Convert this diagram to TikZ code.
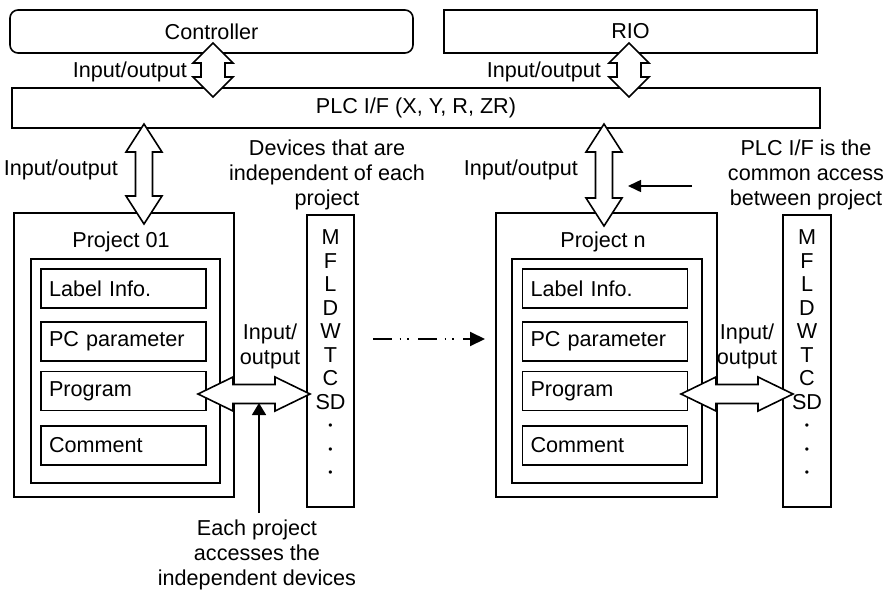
\documentclass[tikz,border=0pt]{standalone}
\usepackage{fontspec}
\setmainfont{Liberation Sans}
\usetikzlibrary{calc,arrows.meta}

\tikzset{
  box/.style={draw, line width=0.8pt, inner sep=0pt},
  itembox/.style={draw, line width=0.8pt, minimum height=19.5pt, text width=74.5pt, align=left, inner xsep=4pt, inner ysep=0pt},
  blockarrow/.style={draw, fill=white, line width=0.8pt, line join=miter},
  devcol/.style={align=center, inner sep=0pt, anchor=north, font=\fontsize{10.8}{11.75}\selectfont},
}

% vertical double block arrow: top, bottom, shaft half, head half, head length
\newcommand{\vblockarrow}[5]{%
  \filldraw[blockarrow] (#1) -- ($(#1)+(#4,#5)$) -- ($(#1)+(#3,#5)$) -- ($(#2)+(#3,-#5)$)
    -- ($(#2)+(#4,-#5)$) -- (#2) -- ($(#2)+(-#4,-#5)$) -- ($(#2)+(-#3,-#5)$)
    -- ($(#1)+(-#3,#5)$) -- ($(#1)+(-#4,#5)$) -- cycle;}
% horizontal double block arrow: left, right, shaft half, head half, head length
\newcommand{\hblockarrow}[5]{%
  \filldraw[blockarrow] (#1) -- ($(#1)+(#5,-#4)$) -- ($(#1)+(#5,-#3)$) -- ($(#2)+(-#5,-#3)$)
    -- ($(#2)+(-#5,-#4)$) -- (#2) -- ($(#2)+(-#5,#4)$) -- ($(#2)+(-#5,#3)$)
    -- ($(#1)+(#5,#3)$) -- ($(#1)+(#5,#4)$) -- cycle;}
\newcommand{\coldot}{\raisebox{1.6pt}{\fontsize{6}{6}\selectfont •}}

\begin{document}
\begin{tikzpicture}[x=0.5pt, y=-0.5pt, font=\fontsize{10.8}{12.5}\selectfont]
  \useasboundingbox (0,0) rectangle (887,599);

  % top row
  \node[box, rounded corners=4pt, minimum width=201.5pt, minimum height=21.5pt] (ctrl) at (211.5,31.5) {Controller};
  \node[box, minimum width=186.5pt, minimum height=21.5pt] (rio) at (630.5,31.5) {RIO};
  \node[box, minimum width=404pt, minimum height=20pt] (plc) at (416,108) {PLC I/F (X, Y, R, ZR)};

  % project 01
  \node[box, minimum width=110pt, minimum height=142pt] (proj1) at (124,355) {};
  \node (proj1t) at (121,242) {Project 01};
  \node[box, minimum width=94.5pt, minimum height=112pt] (in1) at (125.5,371) {};
  \node[itembox] (lab1) at (123.5,288.5) {Label Info.};
  \node[itembox] (par1) at (123.5,341.5) {PC parameter};
  \node[itembox] (prg1) at (123.5,391) {Program};
  \node[itembox] (cmt1) at (123.5,445.5) {Comment};
  \node[box, minimum width=23.5pt, minimum height=146pt] (col1) at (330.5,361) {};
  \node[devcol] (dev1) at (330.5,229.5) {M\\F\\L\\D\\W\\T\\C\\SD\\\coldot\\\coldot\\\coldot};

  % project n
  \node[box, minimum width=110.5pt, minimum height=142pt] (projn) at (606.5,355) {};
  \node (projnt) at (603,242) {Project n};
  \node[box, minimum width=95pt, minimum height=112pt] (inn) at (607,371) {};
  \node[itembox] (labn) at (605,288.5) {Label Info.};
  \node[itembox] (parn) at (605,341.5) {PC parameter};
  \node[itembox] (prgn) at (605,391) {Program};
  \node[itembox] (cmtn) at (605,445.5) {Comment};
  \node[box, minimum width=24pt, minimum height=146pt] (coln) at (807,361) {};
  \node[devcol] (devn) at (807,229.5) {M\\F\\L\\D\\W\\T\\C\\SD\\\coldot\\\coldot\\\coldot};

  % notes
  \node[align=center] (indep) at (327,175) {Devices that are\\independent of each\\project};
  \node[align=center] (common) at (806,175) {PLC I/F is the\\common access\\between project};
  \node[align=center] (each) at (257,555) {Each project\\accesses the\\independent devices};

  % block arrows
  \coordinate (io1t) at (213,43);  \coordinate (io1b) at (213,97);
  \coordinate (io2t) at (629,43);  \coordinate (io2b) at (629,97);
  \coordinate (io3t) at (144,124); \coordinate (io3b) at (144,224);
  \coordinate (io4t) at (604,124); \coordinate (io4b) at (604,226);
  \coordinate (io5l) at (198,394); \coordinate (io5r) at (310,394);
  \coordinate (io6l) at (681,394); \coordinate (io6r) at (793,394);
  \vblockarrow{io1t}{io1b}{12}{20}{20}
  \vblockarrow{io2t}{io2b}{12}{20}{20}
  \vblockarrow{io3t}{io3b}{8.5}{18}{28}
  \vblockarrow{io4t}{io4b}{8.5}{18}{28}
  \hblockarrow{io5l}{io5r}{9.5}{17}{35}
  \hblockarrow{io6l}{io6r}{9.5}{17}{35}

  \node[anchor=east] (iolab1) at (194,72) {Input/output};
  \node[anchor=east] (iolab2) at (608,72) {Input/output};
  \node[anchor=east] (iolab3) at (125,170) {Input/output};
  \node[anchor=east] (iolab4) at (585,170) {Input/output};
  \node[align=center] (iolab5) at (270,346) {Input/\\output};
  \node[align=center] (iolab6) at (747,346) {Input/\\output};

  % thin arrows
  \coordinate (eachtip) at (259,403);
  \coordinate (eachfoot) at (259,513);
  \draw[line width=0.8pt, -{Triangle[length=6pt, width=7pt]}] (eachfoot) -- (eachtip);
  \coordinate (ptr1) at (692,186);
  \coordinate (ptr2) at (628,186);
  \draw[line width=0.8pt, -{Triangle[length=6.5pt, width=6pt]}] (ptr1) -- (ptr2);
  \coordinate (dsh1) at (373,339);
  \coordinate (dsh2) at (485,339);
  \draw[line width=1pt, dash pattern=on 9.5pt off 3.75pt on 0.75pt off 3pt on 0.75pt off 4.75pt,
        -{Triangle[length=7.5pt, width=7pt]}] (dsh1) -- (dsh2);
\end{tikzpicture}
\end{document}
